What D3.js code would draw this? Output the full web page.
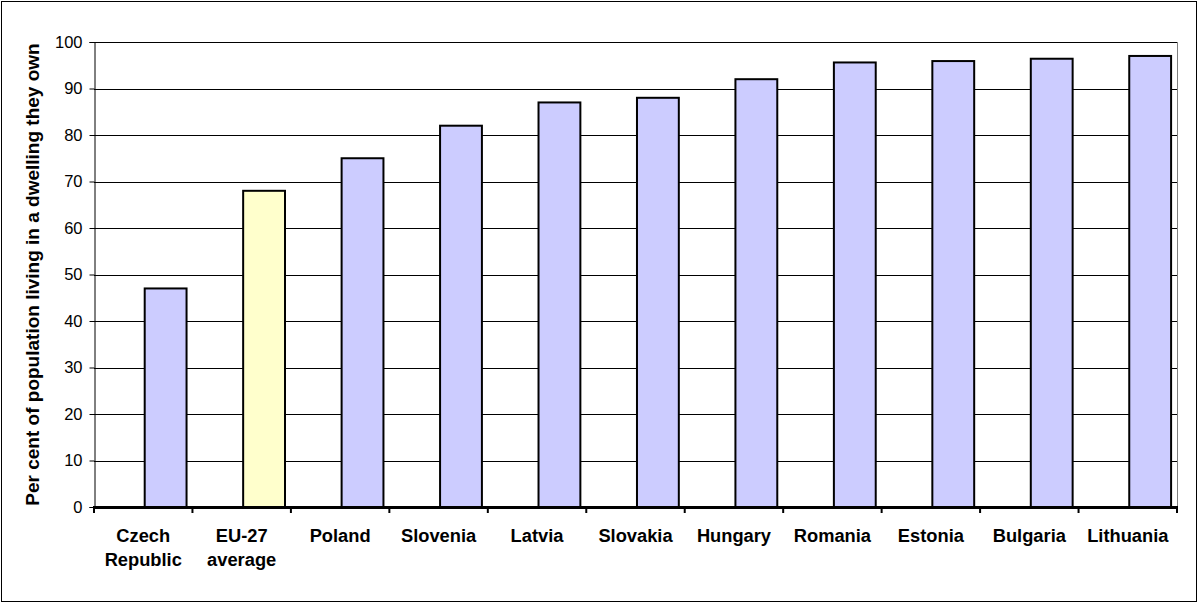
<!DOCTYPE html>
<html>
<head>
<meta charset="utf-8">
<script src="https://cdn.jsdelivr.net/npm/d3@7"></script>
<style>
  html, body { margin: 0; padding: 0; background: #fff; }
  svg { display: block; font-family: "Liberation Sans", Arial, sans-serif; }
</style>
</head>
<body>
<svg id="chart" width="1198" height="603"></svg>
<script>
// Home ownership rate by country, with the EU-27 average highlighted
const categories = [
  ["Czech", "Republic"], ["EU-27", "average"], ["Poland"], ["Slovenia"], ["Latvia"],
  ["Slovakia"], ["Hungary"], ["Romania"], ["Estonia"], ["Bulgaria"], ["Lithuania"]
];
const values = [47, 68, 75, 82, 87, 88, 92, 95.6, 95.9, 96.4, 97];
const highlight = ["EU-27 average"];
const yTicks = [0, 10, 20, 30, 40, 50, 60, 70, 80, 90, 100];
const yTitle = "Per cent of population living in a dwelling they own";

const svg = d3.select("#chart");
const W = 1198, H = 603;
const plot = { left: 94, right: 1177, top: 42, bottom: 507 };

// outer frame
svg.append("rect")
  .attr("x", 1.5).attr("y", 1.5)
  .attr("width", W - 3).attr("height", H - 3)
  .attr("fill", "#fff").attr("stroke", "#000").attr("stroke-width", 1);

const names = categories.map(c => c.join(" "));
const x = d3.scaleBand().domain(names).range([plot.left, plot.right]).padding(0);
const y = d3.scaleLinear().domain([0, 100]).range([plot.bottom, plot.top]);

// gridlines
svg.append("g")
  .selectAll("line")
  .data(yTicks.filter(t => t > 0))
  .join("line")
  .attr("x1", plot.left).attr("x2", plot.right)
  .attr("y1", d => Math.round(y(d)) + 0.5).attr("y2", d => Math.round(y(d)) + 0.5)
  .attr("stroke", "#000").attr("stroke-width", 1);

// plot area right edge
svg.append("line")
  .attr("x1", plot.right + 0.5).attr("x2", plot.right + 0.5)
  .attr("y1", plot.top).attr("y2", plot.bottom)
  .attr("stroke", "#808080").attr("stroke-width", 1);

// bars sit in the right half of each category slot
const bw = x.bandwidth();
svg.append("g")
  .selectAll("rect")
  .data(values.map((v, i) => ({ name: names[i], v })))
  .join("rect")
  .attr("x", d => x(d.name) + bw * 0.515)
  .attr("width", bw * 0.425)
  .attr("y", d => y(d.v))
  .attr("height", d => y(0) - y(d.v))
  .attr("fill", d => highlight.includes(d.name) ? "#FFFFCC" : "#CCCCFF")
  .attr("stroke", "#000").attr("stroke-width", 2);

// y axis
const yAxis = svg.append("g")
  .attr("transform", `translate(${plot.left + 0.5},0)`)
  .call(d3.axisLeft(y).tickValues(yTicks).tickSize(5).tickPadding(7).tickFormat(d3.format("d")));
yAxis.select(".domain").attr("stroke", "#000");
yAxis.selectAll(".tick line").attr("stroke", "#000");
yAxis.selectAll("text")
  .attr("font-size", 16.5).attr("fill", "#000")
  .attr("font-family", "Liberation Sans, Arial, sans-serif");

// x axis: thick baseline with ticks at slot boundaries
const xg = svg.append("g");
xg.append("line")
  .attr("x1", plot.left - 1).attr("x2", plot.right + 1)
  .attr("y1", plot.bottom + 0.5).attr("y2", plot.bottom + 0.5)
  .attr("stroke", "#000").attr("stroke-width", 3);
const bounds = names.map(n => x(n)).concat([plot.right]);
xg.selectAll("line.tk")
  .data(bounds)
  .join("line").attr("class", "tk")
  .attr("x1", d => d).attr("x2", d => d)
  .attr("y1", plot.bottom).attr("y2", plot.bottom + 6)
  .attr("stroke", "#000").attr("stroke-width", 2);

// category labels
const lbl = xg.selectAll("text.cat")
  .data(categories.map((c, i) => ({ lines: c, name: names[i] })))
  .join("text").attr("class", "cat")
  .attr("x", d => x(d.name) + bw / 2)
  .attr("y", 542)
  .attr("text-anchor", "middle")
  .attr("font-size", 18.3).attr("font-weight", "bold").attr("fill", "#000");
lbl.selectAll("tspan")
  .data(d => d.lines.map((t, j) => ({ t, j, cx: x(d.name) + bw / 2 })))
  .join("tspan")
  .attr("x", d => d.cx)
  .attr("dy", d => d.j === 0 ? 0 : 24)
  .text(d => d.t);

// y axis title
svg.append("text")
  .attr("transform", `translate(39,${(plot.top + plot.bottom) / 2}) rotate(-90)`)
  .attr("text-anchor", "middle")
  .attr("font-size", 19).attr("font-weight", "bold").attr("fill", "#000")
  .text(yTitle);
</script>
</body>
</html>
